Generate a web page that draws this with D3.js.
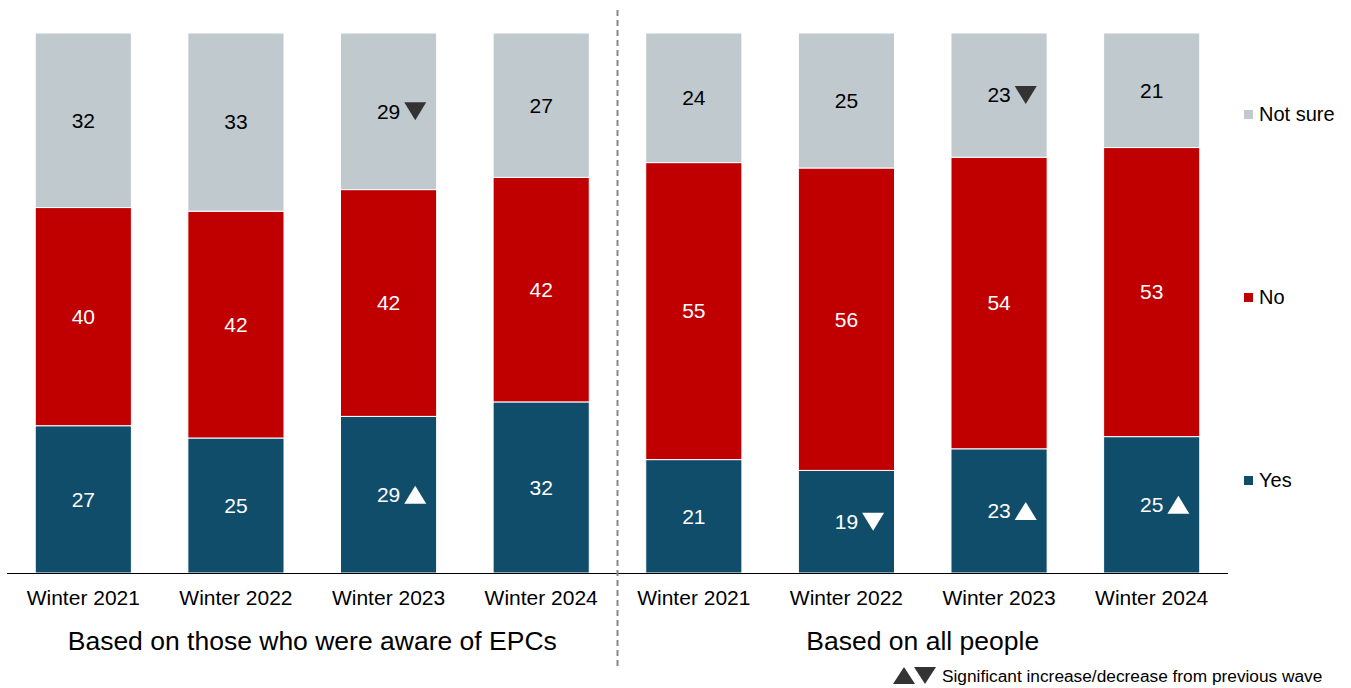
<!DOCTYPE html>
<html>
<head>
<meta charset="utf-8">
<script src="https://cdn.jsdelivr.net/npm/d3@7"></script>
<style>
  body { margin: 0; background: #fff; }
  svg { display: block; font-family: "Liberation Sans", Arial, sans-serif; }
</style>
</head>
<body>
<svg id="chart" width="1351" height="688"></svg>
<script>
const categories = ["Winter 2021","Winter 2022","Winter 2023","Winter 2024","Winter 2021","Winter 2022","Winter 2023","Winter 2024"];
const yesValues = [27, 25, 29, 32, 21, 19, 23, 25];
const noValues = [40, 42, 42, 42, 55, 56, 54, 53];
const notSureValues = [32, 33, 29, 27, 24, 25, 23, 21];
const yesSig = [null, null, "up", null, null, "down", "up", "up"];
const notSureSig = [null, null, "down", null, null, null, "down", null];
const groupLabels = ["Based on those who were aware of EPCs", "Based on all people"];
const seriesNames = ["Yes", "No", "Not sure"];
const footnote = "Significant increase/decrease from previous wave";

const colors = { "Yes": "#0f4d6b", "No": "#c00000", "Not sure": "#bfc9ce" };

const svg = d3.select("#chart");
const plotLeft = 7, plotRight = 1228, plotTop = 33, plotBottom = 573;

const data = categories.map((c, i) => {
  const total = yesValues[i] + noValues[i] + notSureValues[i];
  return { idx: i, cat: c, total, "Yes": yesValues[i], "No": noValues[i], "Not sure": notSureValues[i],
    sig: { "Yes": yesSig[i], "No": null, "Not sure": notSureSig[i] } };
});

const x = d3.scaleBand().domain(d3.range(categories.length)).range([plotLeft, plotRight]).paddingInner(0.37).paddingOuter(0.185);
const y = d3.scaleLinear().domain([0, 1]).range([plotBottom, plotTop]);

const stack = d3.stack().keys(seriesNames).value((d, k) => d[k] / d.total);
const series = stack(data);

const g = svg.append("g");
series.forEach(s => {
  const key = s.key;
  g.selectAll(null).data(s).join("rect")
    .attr("x", (d, i) => x(i))
    .attr("width", x.bandwidth())
    .attr("y", d => y(d[1]))
    .attr("height", d => y(d[0]) - y(d[1]))
    .attr("fill", colors[key])
    .attr("stroke", "#fff")
    .attr("stroke-width", 1);
});

// labels
series.forEach(s => {
  const key = s.key;
  const txtColor = key === "Not sure" ? "#000" : "#fff";
  const triColor = key === "Not sure" ? "#333" : "#fff";
  s.forEach((d, i) => {
    const cx = x(i) + x.bandwidth() / 2;
    const cy = (y(d[0]) + y(d[1])) / 2;
    const t = g.append("text")
      .attr("x", cx).attr("y", cy).attr("dy", "0.35em")
      .attr("text-anchor", "middle")
      .attr("font-size", 21)
      .attr("fill", txtColor)
      .text(d.data[key]);
    const sig = d.data.sig[key];
    if (sig) {
      const w = t.node().getComputedTextLength();
      const x0 = cx + w / 2 + 4, tw = 22, th = 18;
      const pts = sig === "up"
        ? [[x0, cy + th / 2], [x0 + tw, cy + th / 2], [x0 + tw / 2, cy - th / 2]]
        : [[x0, cy - th / 2], [x0 + tw, cy - th / 2], [x0 + tw / 2, cy + th / 2]];
      g.append("polygon").attr("points", pts.map(p => p.join(",")).join(" ")).attr("fill", triColor);
    }
  });
});

// x axis
const axis = d3.axisBottom(x).tickSize(0).tickFormat(i => categories[i]);
const ax = svg.append("g").attr("transform", `translate(0,${plotBottom})`).call(axis);
ax.select(".domain").attr("d", `M${plotLeft},0.5H${plotRight}`).attr("stroke", "#000").attr("stroke-width", 1);
ax.selectAll("text").attr("font-size", 21).attr("fill", "#000").attr("dy", 0).attr("y", 32)
  .attr("font-family", "Liberation Sans, Arial, sans-serif");

// divider
const divX = (x(3) + x.bandwidth() + x(4)) / 2;
svg.append("line").attr("x1", divX).attr("x2", divX).attr("y1", 10).attr("y2", 670)
  .attr("stroke", "#888").attr("stroke-width", 2).attr("stroke-dasharray", "6,4");

// group labels
const g1c = (x(0) + x(3) + x.bandwidth()) / 2;
const g2c = (x(4) + x(7) + x.bandwidth()) / 2;
[g1c, g2c].forEach((c, i) => {
  svg.append("text").attr("x", c).attr("y", 650).attr("text-anchor", "middle")
    .attr("font-size", 26.5).attr("fill", "#000").text(groupLabels[i]);
});

// legend
const legendY = { "Not sure": 114, "No": 297, "Yes": 480 };
seriesNames.forEach(k => {
  svg.append("rect").attr("x", 1244).attr("y", legendY[k] - 4).attr("width", 9).attr("height", 9).attr("fill", colors[k]);
  svg.append("text").attr("x", 1259).attr("y", legendY[k]).attr("dy", "0.35em").attr("font-size", 20).attr("fill", "#000").text(k);
});

// footnote
const fy = 676;
svg.append("polygon").attr("points", `893,${fy+8} 915,${fy+8} 904,${fy-9}`).attr("fill", "#333");
svg.append("polygon").attr("points", `914,${fy-9} 936,${fy-9} 925,${fy+8}`).attr("fill", "#333");
svg.append("text").attr("x", 942).attr("y", fy).attr("dy", "0.35em").attr("font-size", 17.3).attr("fill", "#000").text(footnote);
</script>
</body>
</html>
